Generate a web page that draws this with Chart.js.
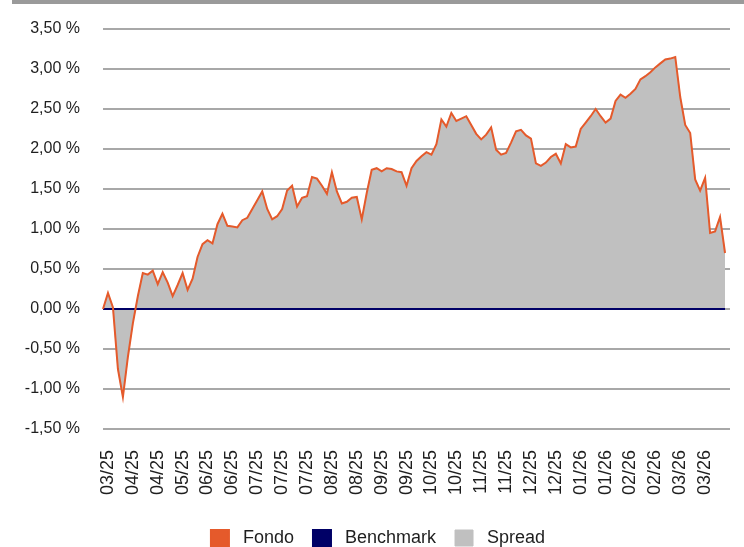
<!DOCTYPE html>
<html>
<head>
<meta charset="utf-8">
<script src="https://cdn.jsdelivr.net/npm/chart.js@4/dist/chart.umd.min.js"></script>
<style>
  html, body { margin: 0; padding: 0; background: #fff; }
  #wrap { width: 744px; height: 547px; }
</style>
</head>
<body>
<div id="wrap"><canvas id="spreadChart" width="744" height="547"></canvas></div>
<script>
// tick labels shown every 5th point (starting at point 1)
const tickLabels = ['03/25', '04/25', '04/25', '05/25', '06/25', '06/25', '07/25', '07/25', '07/25',
    '08/25', '08/25', '09/25', '09/25', '10/25', '10/25', '11/25', '11/25', '12/25', '12/25',
    '01/26', '01/26', '02/26', '02/26', '03/26', '03/26'];

// fund return (%)
const fondo = [
    0.00, 0.20, 0.02, -0.75, -1.10, -0.60, -0.18, 0.16, 0.45, 0.43,
    0.48, 0.31, 0.46, 0.33, 0.16, 0.30, 0.45, 0.24, 0.38, 0.65,
    0.81, 0.86, 0.82, 1.06, 1.19, 1.04, 1.03, 1.02, 1.11, 1.14,
    1.25, 1.36, 1.47, 1.25, 1.12, 1.16, 1.25, 1.48, 1.54, 1.28,
    1.39, 1.41, 1.65, 1.63, 1.54, 1.44, 1.71, 1.47, 1.32, 1.34,
    1.39, 1.40, 1.12, 1.45, 1.74, 1.76, 1.72, 1.76, 1.75, 1.72,
    1.71, 1.54, 1.76, 1.85, 1.91, 1.96, 1.93, 2.06, 2.37, 2.28,
    2.45, 2.35, 2.38, 2.41, 2.30, 2.19, 2.12, 2.18, 2.27, 1.99,
    1.93, 1.95, 2.08, 2.22, 2.24, 2.17, 2.13, 1.82, 1.79, 1.83,
    1.90, 1.94, 1.82, 2.06, 2.02, 2.03, 2.25, 2.33, 2.41, 2.50,
    2.41, 2.33, 2.38, 2.60, 2.68, 2.64, 2.69, 2.75, 2.87, 2.91,
    2.96, 3.02, 3.07, 3.12, 3.13, 3.15, 2.65, 2.30, 2.20, 1.62,
    1.48, 1.64, 0.95, 0.97, 1.15, 0.70, 1.00
];

// benchmark sits flat on zero
const benchmark = [
    0, 0, 0, 0, 0, 0, 0, 0, 0, 0, 0, 0, 0, 0, 0, 0, 0, 0, 0, 0,
    0, 0, 0, 0, 0, 0, 0, 0, 0, 0, 0, 0, 0, 0, 0, 0, 0, 0, 0, 0,
    0, 0, 0, 0, 0, 0, 0, 0, 0, 0, 0, 0, 0, 0, 0, 0, 0, 0, 0, 0,
    0, 0, 0, 0, 0, 0, 0, 0, 0, 0, 0, 0, 0, 0, 0, 0, 0, 0, 0, 0,
    0, 0, 0, 0, 0, 0, 0, 0, 0, 0, 0, 0, 0, 0, 0, 0, 0, 0, 0, 0,
    0, 0, 0, 0, 0, 0, 0, 0, 0, 0, 0, 0, 0, 0, 0, 0, 0, 0, 0, 0,
    0, 0, 0, 0, 0, 0, 0
];

const spread = fondo.map((v, i) => +(v - benchmark[i]).toFixed(2));
const labels = fondo.map((_, i) => ((i - 1) % 5 === 0 ? tickLabels[(i - 1) / 5] : ''));

const FONT = "'Liberation Sans', Arial, sans-serif";
const TEXT = '#1e1e1e';

// grey strip on top + the closing edge of the spread area
const decor = {
    id: 'decor',
    beforeDraw(chart) {
        const c = chart.ctx;
        c.save();
        c.fillStyle = '#ffffff';
        c.fillRect(0, 0, chart.width, chart.height);
        c.fillStyle = '#9a9a9a';
        c.fillRect(12, 0, chart.width - 12, 4);
        c.restore();
    },
    afterLayout(chart) {
        // push the legend row down to the bottom edge and a bit right
        chart.legend.top += 10;
        chart.legend.bottom += 10;
        chart.legend.left += 13;
        chart.legend.right += 13;
    },
    afterDatasetsDraw(chart) {
        const meta = chart.getDatasetMeta(2);
        const last = meta.data[meta.data.length - 1];
        const y = chart.scales.y;
        const c = chart.ctx;
        c.save();
        c.strokeStyle = '#808080';
        c.lineWidth = 1;
        c.beginPath();
        c.moveTo(Math.round(last.x) - 0.5, y.getPixelForValue(spread[spread.length - 1]));
        c.lineTo(Math.round(last.x) - 0.5, y.getPixelForValue(0));
        c.stroke();
        c.restore();
    }
};

new Chart(document.getElementById('spreadChart'), {
    type: 'line',
    data: {
        labels: labels,
        datasets: [{
            label: 'Fondo',
            data: fondo,
            borderColor: '#e55a2b',
            backgroundColor: '#e55a2b',
            borderWidth: 2,
            pointRadius: 0,
            tension: 0,
            fill: false
        }, {
            label: 'Benchmark',
            data: benchmark,
            borderColor: '#000066',
            backgroundColor: '#000066',
            borderWidth: 2,
            pointRadius: 0,
            tension: 0,
            fill: false
        }, {
            label: 'Spread',
            data: spread,
            borderColor: '#c0c0c0',
            backgroundColor: '#c0c0c0',
            borderWidth: 1,
            pointRadius: 0,
            tension: 0,
            fill: 'origin'
        }]
    },
    options: {
        responsive: false,
        animation: false,
        layout: {
            padding: { top: 29, right: 14, left: 0, bottom: 0 }
        },
        scales: {
            x: {
                grid: { display: false, drawTicks: false },
                border: { display: false },
                ticks: {
                    autoSkip: false,
                    minRotation: 90,
                    maxRotation: 90,
                    padding: 21,
                    color: TEXT,
                    font: { family: FONT, size: 18 }
                },
                afterFit: function(scale) {
                    scale.height = 71;
                    scale.paddingLeft = 0;
                    scale.paddingRight = 0;
                }
            },
            y: {
                min: -1.5,
                max: 3.5,
                grid: { color: '#a8a8a8', lineWidth: 2, drawTicks: false },
                border: { display: false },
                ticks: {
                    stepSize: 0.5,
                    padding: 23,
                    color: TEXT,
                    font: { family: FONT, size: 16 },
                    callback: function(v) { return v.toFixed(2).replace('.', ',') + ' %'; }
                },
                afterFit: function(scale) {
                    scale.width = 103;
                    scale.paddingTop = 0;
                    scale.paddingBottom = 0;
                }
            }
        },
        plugins: {
            legend: {
                position: 'bottom',
                labels: {
                    boxWidth: 18,
                    boxHeight: 16,
                    padding: 19,
                    color: TEXT,
                    font: { family: FONT, size: 18 },
                    generateLabels: function(chart) {
                        const items = Chart.defaults.plugins.legend.labels.generateLabels(chart);
                        items.forEach(function(it) { it.text = ' ' + it.text; });
                        return items;
                    }
                }
            },
            tooltip: { enabled: false }
        }
    },
    plugins: [decor]
});
</script>
</body>
</html>
